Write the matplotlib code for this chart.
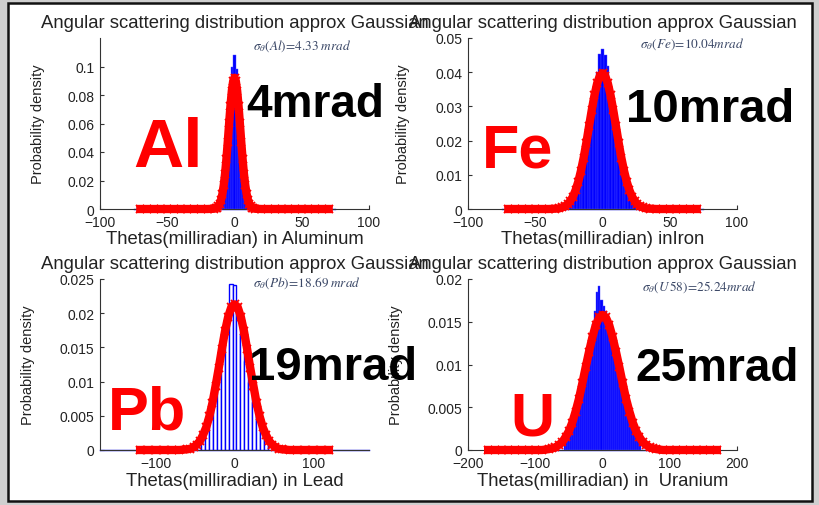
import matplotlib.pyplot as plt
from matplotlib.patches import Rectangle

plt.rcParams['font.family'] = ['Liberation Sans', 'DejaVu Sans']
plt.rcParams['mathtext.fontset'] = 'stix'

# ---- data ----
title = 'Angular scattering distribution approx Gaussian'

# Aluminium
al_hist_c = [-12, -10.5, -9, -7.5, -6, -4.5, -3, -1.5, 0, 1.5, 3, 4.5, 6, 7.5, 9, 10.5, 12]
al_hist_h = [0.0005, 0.001, 0.003, 0.008, 0.018, 0.040, 0.072, 0.100, 0.108,
             0.098, 0.074, 0.044, 0.020, 0.008, 0.003, 0.001, 0.0005]
al_curve_x = [-70, -65, -60, -55, -50, -45, -40, -35, -30, -25, -20, -15,
              -14, -13, -12, -11, -10, -9, -8, -7, -6, -5, -4, -3, -2, -1, 0,
              1, 2, 3, 4, 5, 6, 7, 8, 9, 10, 11, 12, 13, 14,
              15, 20, 25, 30, 35, 40, 45, 50, 55, 60, 65, 70]
al_curve_y = [0, 0, 0, 0, 0, 0, 0, 0, 0, 0, 0, 0.0002,
              0.0005, 0.0010, 0.0020, 0.0037, 0.0064, 0.0106, 0.0167, 0.0249, 0.0353, 0.0473,
              0.0601, 0.0725, 0.0828, 0.0897, 0.0921,
              0.0897, 0.0828, 0.0725, 0.0601, 0.0473, 0.0353, 0.0249, 0.0167, 0.0106, 0.0064,
              0.0037, 0.0020, 0.0010, 0.0005,
              0.0002, 0, 0, 0, 0, 0, 0, 0, 0, 0, 0, 0]

# Iron
fe_hist_c = [-24, -22, -20, -18, -16, -14, -12, -10, -8, -6, -4, -2, 0,
             2, 4, 6, 8, 10, 12, 14, 16, 18, 20, 22, 24]
fe_hist_h = [0.002, 0.003, 0.005, 0.007, 0.010, 0.014, 0.019, 0.024, 0.029, 0.034, 0.040, 0.0453, 0.0468,
             0.045, 0.0419, 0.035, 0.030, 0.024, 0.019, 0.014, 0.010, 0.007, 0.005, 0.003, 0.002]
fe_curve_x = [-70, -65, -60, -55, -50, -45, -40, -35,
              -32, -30, -28, -26, -24, -22, -20, -18, -16, -14, -12, -10, -8, -6, -4, -2, 0,
              2, 4, 6, 8, 10, 12, 14, 16, 18, 20, 22, 24, 26, 28, 30, 32,
              35, 40, 45, 50, 55, 60, 65, 70]
fe_curve_y = [0, 0, 0, 0, 0, 0, 0, 0.0001,
              0.0002, 0.0005, 0.0008, 0.0014, 0.0023, 0.0036, 0.0055, 0.0080, 0.0112, 0.0150,
              0.0194, 0.0242, 0.0289, 0.0332, 0.0367, 0.0389, 0.0397,
              0.0389, 0.0367, 0.0332, 0.0289, 0.0242, 0.0194, 0.0150, 0.0112, 0.0080, 0.0055,
              0.0036, 0.0023, 0.0014, 0.0008, 0.0005, 0.0002,
              0.0001, 0, 0, 0, 0, 0, 0, 0]

# Lead
pb_hist_c = [-45, -40, -35, -30, -25, -20, -15, -10, -5, 0, 5, 10, 15, 20, 25, 30, 35, 40, 45]
pb_hist_h = [0.001, 0.002, 0.004, 0.006, 0.009, 0.012, 0.016, 0.019, 0.0243, 0.0241,
             0.020, 0.017, 0.013, 0.010, 0.007, 0.005, 0.003, 0.002, 0.001]
pb_curve_x = [-120, -110, -100, -90, -80, -70, -60,
              -56, -52, -48, -44, -40, -36, -32, -28, -24, -20, -16, -12, -8, -4, 0,
              4, 8, 12, 16, 20, 24, 28, 32, 36, 40, 44, 48, 52, 56,
              60, 70, 80, 90, 100, 110, 120]
pb_curve_y = [0, 0, 0, 0, 0, 0, 0.0001,
              0.0002, 0.0004, 0.0008, 0.0013, 0.0022, 0.0033, 0.0049, 0.0069, 0.0094, 0.0120,
              0.0148, 0.0174, 0.0195, 0.0209, 0.0213,
              0.0209, 0.0195, 0.0174, 0.0148, 0.0120, 0.0094, 0.0069, 0.0049, 0.0033, 0.0022,
              0.0013, 0.0008, 0.0004, 0.0002,
              0.0001, 0, 0, 0, 0, 0, 0]

# Uranium
u_hist_c = [-55.5, -52.5, -49.5, -46.5, -43.5, -40.5, -37.5, -34.5, -31.5, -28.5, -25.5, -22.5,
            -19.5, -16.5, -13.5, -10.5, -7.5, -4.5, -1.5, 1.5, 4.5, 7.5, 10.5, 13.5, 16.5,
            19.5, 22.5, 25.5, 28.5, 31.5, 34.5, 37.5, 40.5, 43.5, 46.5, 49.5, 52.5, 55.5]
u_hist_h = [0.0008, 0.0011, 0.0015, 0.0020, 0.0027, 0.0035, 0.0046, 0.0058, 0.0070, 0.0082, 0.0095, 0.0108,
            0.0121, 0.0134, 0.0147, 0.0163, 0.0185, 0.0192, 0.0176, 0.0169, 0.0163, 0.0155, 0.0150, 0.0140, 0.0128,
            0.0117, 0.0104, 0.0091, 0.0078, 0.0066, 0.0054, 0.0044, 0.0035, 0.0027, 0.0020, 0.0015, 0.0011, 0.0008]
u_curve_x = [-170, -160, -150, -140, -130, -120, -110, -100, -90, -80,
             -75, -70, -65, -60, -55, -50, -45, -40, -35, -30, -25, -20, -15, -10, -5, 0,
             5, 10, 15, 20, 25, 30, 35, 40, 45, 50, 55, 60, 65, 70, 75,
             80, 90, 100, 110, 120, 130, 140, 150, 160, 170]
u_curve_y = [0, 0, 0, 0, 0, 0, 0, 0, 0, 0.0001,
             0.0002, 0.0003, 0.0006, 0.0009, 0.0015, 0.0022, 0.0032, 0.0045, 0.0060, 0.0078,
             0.0097, 0.0115, 0.0132, 0.0146, 0.0155, 0.0158,
             0.0155, 0.0146, 0.0132, 0.0115, 0.0097, 0.0078, 0.0060, 0.0045, 0.0032, 0.0022,
             0.0015, 0.0009, 0.0006, 0.0003, 0.0002,
             0.0001, 0, 0, 0, 0, 0, 0, 0, 0, 0]

W, H = 819, 506
fig = plt.figure(figsize=(W / 100, H / 100), dpi=100, facecolor='#cfcfcf')
fig.patches.append(Rectangle((8 / W, 1 - 502 / H), 804 / W, 498 / H, transform=fig.transFigure,
                             facecolor='white', edgecolor='#111111', lw=1.8, zorder=-10))


def px(x, y):
    return x / W, 1 - y / H


def panel(left, top, xlabel, xlim, xticks, ylim, yticks, ylabels,
          hc, hh, bw, span, cx, cy, ylab_x, xlab_y, hollow=False):
    x0, y1 = px(left, top)
    ax = fig.add_axes([x0, y1 - 171 / H, 269 / W, 171 / H])
    ax.plot(span, [0, 0], color='blue', lw=1, zorder=1, clip_on=False)
    if hollow:
        ax.bar(hc, hh, width=bw, facecolor='white', edgecolor='blue', lw=1, zorder=2)
    else:
        ax.bar(hc, hh, width=bw, color='blue', edgecolor='#4d4dff', lw=0.3, zorder=2)
    ax.plot(cx, cy, color='red', lw=6, marker='x', ms=6, mew=1.3,
            clip_on=False, zorder=3)
    ax.set_xlim(xlim)
    ax.set_ylim(ylim)
    ax.set_xticks(xticks)
    ax.set_yticks(yticks)
    ax.set_yticklabels(ylabels)
    for s in ['top', 'right']:
        ax.spines[s].set_visible(False)
    for s in ['left', 'bottom']:
        ax.spines[s].set_color('#333333')
        ax.spines[s].set_linewidth(0.8)
    ax.tick_params(direction='in', length=3, labelsize=10, colors='#333333',
                   labelcolor='#222222', pad=4)
    ax.set_title(title, fontsize=13.3, color='#222222', pad=8)
    ax.set_xlabel(xlabel, fontsize=13.3, color='#222222')
    ax.xaxis.set_label_coords(0.5, xlab_y)
    ax.set_ylabel('Probability density', fontsize=10.5, color='#222222')
    ax.yaxis.set_label_coords(ylab_x, 0.5)
    return ax


panel(100, 39, 'Thetas(milliradian) in Aluminum', (-100, 100), [-100, -50, 0, 50, 100],
      (0, 0.12), [0, 0.02, 0.04, 0.06, 0.08, 0.1], ['0', '0.02', '0.04', '0.06', '0.08', '0.1'],
      al_hist_c, al_hist_h, 1.5, [-75, 75], al_curve_x, al_curve_y, -0.204, -0.12)
panel(100, 280, 'Thetas(milliradian) in Lead', (-171, 171), [-100, 0, 100],
      (0, 0.025), [0, 0.005, 0.01, 0.015, 0.02, 0.025],
      ['0', '0.005', '0.01', '0.015', '0.02', '0.025'],
      pb_hist_c, pb_hist_h, 5, [-171, 171], pb_curve_x, pb_curve_y, -0.242, -0.13, hollow=True)
panel(468, 39, 'Thetas(milliradian) inIron', (-100, 100), [-100, -50, 0, 50, 100],
      (0, 0.05), [0, 0.01, 0.02, 0.03, 0.04, 0.05], ['0', '0.01', '0.02', '0.03', '0.04', '0.05'],
      fe_hist_c, fe_hist_h, 2, [-75, 75], fe_curve_x, fe_curve_y, -0.216, -0.12)
panel(468, 280, 'Thetas(milliradian) in  Uranium', (-200, 200), [-200, -100, 0, 100, 200],
      (0, 0.02), [0, 0.005, 0.01, 0.015, 0.02], ['0', '0.005', '0.01', '0.015', '0.02'],
      u_hist_c, u_hist_h, 3, [-175, 175], u_curve_x, u_curve_y, -0.242, -0.13)

# sigma annotations
sig_color = '#3a4766'
fig.text(*px(253, 46), r'$\sigma_\theta(Al)\!=\!4.33\;mrad$', fontsize=9.5, color=sig_color, va='center')
fig.text(*px(640, 44), r'$\sigma_\theta(Fe)\!=\!10.04mrad$', fontsize=9.5, color=sig_color, va='center')
fig.text(*px(253, 283), r'$\sigma_\theta(Pb)\!=\!18.69\;mrad$', fontsize=9.5, color=sig_color, va='center')
fig.text(*px(642, 287), r'$\sigma_\theta(U\,58)\!=\!25.24mrad$', fontsize=9.5, color=sig_color, va='center')

# big slide labels
fig.text(*px(133, 167), 'Al', fontsize=50, fontweight='bold', color='red', va='baseline')
fig.text(*px(482, 167), 'Fe', fontsize=44, fontweight='bold', color='red', va='baseline')
fig.text(*px(108, 430), 'Pb', fontsize=44, fontweight='bold', color='red', va='baseline')
fig.text(*px(510, 435), 'U', fontsize=44, fontweight='bold', color='red', va='baseline')
fig.text(*px(246, 117), '4mrad', fontsize=33, fontweight='bold', color='black', va='baseline')
fig.text(*px(626, 122), '10mrad', fontsize=34, fontweight='bold', color='black', va='baseline')
fig.text(*px(249, 380), '19mrad', fontsize=34, fontweight='bold', color='black', va='baseline')
fig.text(*px(635, 381), '25mrad', fontsize=33, fontweight='bold', color='black', va='baseline')

fig.savefig('out.png', dpi=100, facecolor=fig.get_facecolor())
